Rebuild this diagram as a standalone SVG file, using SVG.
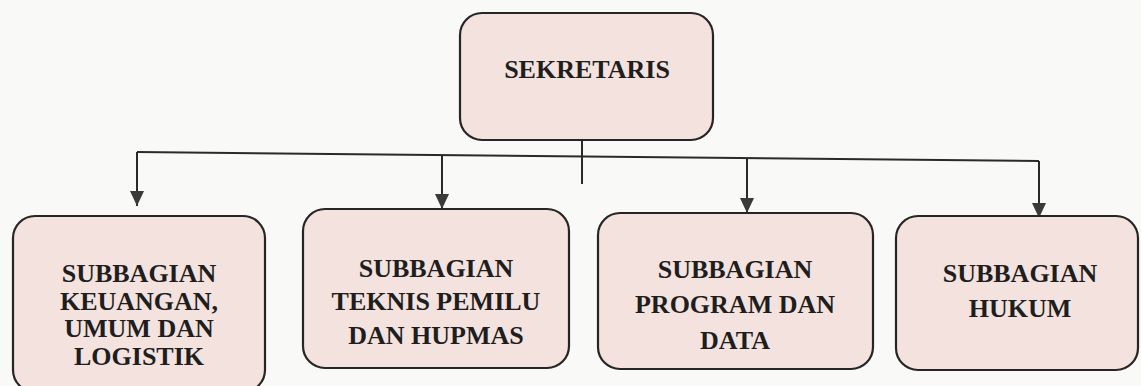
<svg xmlns="http://www.w3.org/2000/svg" width="1141" height="386" viewBox="0 0 1141 386">
<style>
.box{fill:#f3e2dd;stroke:#262626;stroke-width:2.2}
.lbl{font-family:"Liberation Serif","Times New Roman",serif;font-weight:bold;font-size:26px;fill:#1e1e1e;text-anchor:middle}
.con{stroke:#2a2a2a;stroke-width:2;fill:none}
.arrow{marker-end:url(#arr)}
</style>
<defs>
<marker id="arr" markerUnits="userSpaceOnUse" markerWidth="16" markerHeight="14" refX="15" refY="7" orient="auto" viewBox="0 0 16 14">
<path d="M0,0 L15,7 L0,14 Z" fill="#3a3a3a"/>
</marker>
</defs>
<rect width="1141" height="386" fill="#f9f9f8"/>
<g id="connectors">
<line class="con" x1="582" y1="113" x2="582" y2="184"/>
<line class="con" x1="137" y1="152" x2="1039" y2="161"/>
<path class="con arrow" d="M137,152 V206"/>
<path class="con arrow" d="M442,155 V209"/>
<path class="con arrow" d="M747,158 V213"/>
<path class="con arrow" d="M1039,161 V218"/>
</g>
<g id="sekretaris">
<rect class="box" x="460" y="13" width="253" height="127" rx="22"/>
<text class="lbl" x="587" y="78">SEKRETARIS</text>
</g>
<g id="keuangan">
<rect class="box" x="13" y="216" width="252" height="176" rx="22"/>
<text class="lbl" x="139" y="282">SUBBAGIAN</text>
<text class="lbl" x="139" y="310">KEUANGAN,</text>
<text class="lbl" x="139" y="337">UMUM DAN</text>
<text class="lbl" x="139" y="365">LOGISTIK</text>
</g>
<g id="teknis">
<rect class="box" x="303" y="209" width="266" height="159" rx="22"/>
<text class="lbl" x="436" y="277">SUBBAGIAN</text>
<text class="lbl" x="436" y="310">TEKNIS PEMILU</text>
<text class="lbl" x="436" y="344">DAN HUPMAS</text>
</g>
<g id="program">
<rect class="box" x="598" y="213" width="275" height="156" rx="22"/>
<text class="lbl" x="735" y="278">SUBBAGIAN</text>
<text class="lbl" x="735" y="313">PROGRAM DAN</text>
<text class="lbl" x="735" y="349">DATA</text>
</g>
<g id="hukum">
<rect class="box" x="896" y="216" width="242" height="154" rx="22"/>
<text class="lbl" x="1020" y="282">SUBBAGIAN</text>
<text class="lbl" x="1020" y="317">HUKUM</text>
</g>
</svg>
